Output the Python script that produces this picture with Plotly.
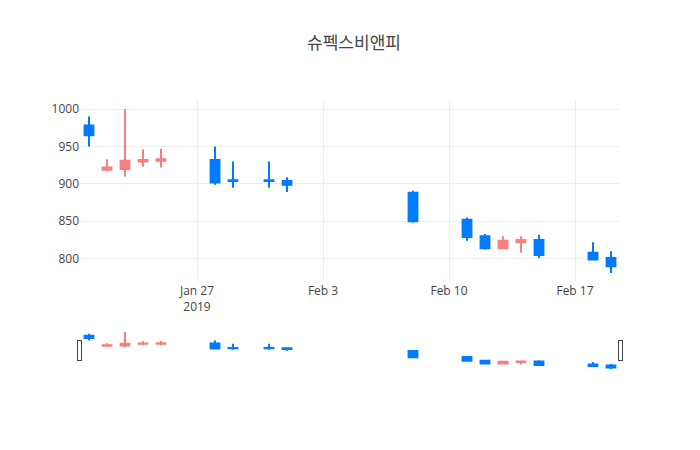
import plotly.graph_objects as go

# daily prices (KRW)
dates = ["2019-01-21", "2019-01-22", "2019-01-23", "2019-01-24", "2019-01-25",
         "2019-01-28", "2019-01-29", "2019-01-31", "2019-02-01", "2019-02-08",
         "2019-02-11", "2019-02-12", "2019-02-13", "2019-02-14", "2019-02-15",
         "2019-02-18", "2019-02-19"]
open_ = [978, 919, 920, 930, 931, 932, 905, 905, 904, 888, 852, 830, 814, 822, 825, 808, 801]
high = [990, 933, 1000, 946, 947, 950, 930, 930, 909, 891, 855, 833, 830, 830, 832, 822, 810]
low = [950, 917, 910, 923, 922, 899, 895, 895, 889, 848, 824, 812, 814, 808, 801, 799, 781]
close = [965, 922, 931, 932, 933, 902, 904, 904, 899, 850, 829, 814, 824, 825, 805, 799, 790]

fig = go.Figure(data=[go.Candlestick(
    x=dates,
    open=open_,
    high=high,
    low=low,
    close=close,
    increasing=dict(line=dict(color="#f77f7f"), fillcolor="#f77f7f"),
    decreasing=dict(line=dict(color="#007bff"), fillcolor="#007bff"),
)])

# page body has an 8px margin, so shift everything up/left by 8px
fig.update_layout(
    title=dict(text="슈펙스비앤피", x=0.5, xanchor="center",
               y=1 - 35 / 442, yanchor="middle"),
    template="none",
    width=692,
    height=442,
    margin=dict(l=72, r=80, t=92, b=80),
    showlegend=False,
    font=dict(family="Open Sans, Noto Sans CJK KR, sans-serif", color="#444"),
    xaxis=dict(showgrid=True, gridcolor="#eee"),
    yaxis=dict(showgrid=True, gridcolor="#eee", zeroline=False),
)

fig.write_html("out.html")
